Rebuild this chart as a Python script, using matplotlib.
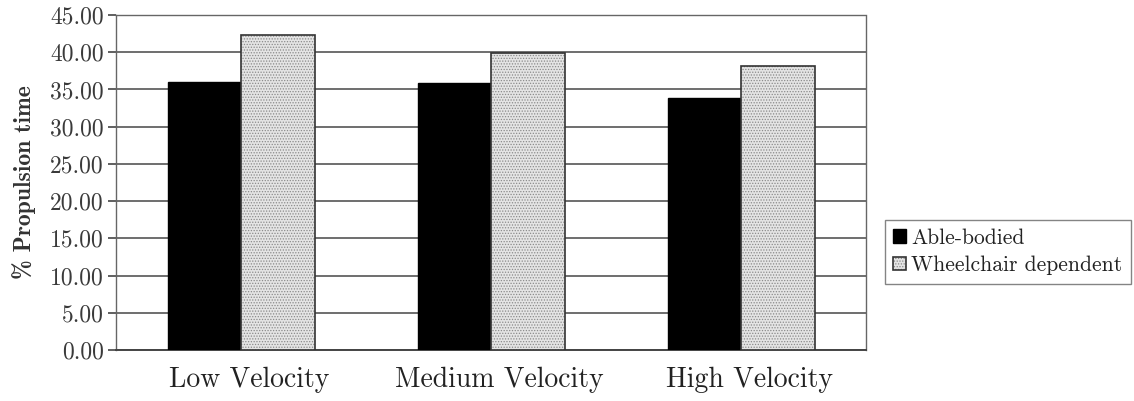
import matplotlib
matplotlib.use("Agg")
import matplotlib.pyplot as plt
import matplotlib.transforms as mtransforms
from matplotlib.legend_handler import HandlerTuple
import numpy as np

categories = ["Low Velocity", "Medium Velocity", "High Velocity"]
able_bodied = [36.0, 35.9, 33.8]
wheelchair = [42.3, 39.9, 38.2]
series_names = ["Able-bodied", "Wheelchair dependent"]
y_ticks = [0, 5, 10, 15, 20, 25, 30, 35, 40, 45]

plt.rcParams["hatch.linewidth"] = 0.6
plt.rcParams["axes.formatter.use_mathtext"] = True

fig = plt.figure(figsize=(11.34, 4.01), dpi=100)
ax = fig.add_axes([0.1023, 0.127, 0.6614, 0.8356])

x = np.arange(len(categories))
w = 0.294

ab = ax.bar(x - w / 2, able_bodied, width=w, color="black", edgecolor="black",
            linewidth=1.0, zorder=3)
wc_fill = ax.bar(x + w / 2, wheelchair, width=w, color="#e4e4e4",
                 edgecolor="#8a8a8a", hatch="......", linewidth=0, zorder=3)
wc_edge = ax.bar(x + w / 2, wheelchair, width=w, fill=False,
                 edgecolor="#333333", linewidth=1.2, zorder=4)

ax.set_xlim(-0.5, 2.5)
ax.set_ylim(0, 45)
ax.set_yticks(y_ticks)
ax.set_yticklabels([f"{v:.2f}" for v in y_ticks], family="cmr10", fontsize=17,
                   color="#3a3a3a")
ax.set_xticks(x)
ax.set_xticklabels(categories, family="cmr10", fontsize=20, color="#222222")
ax.tick_params(axis="x", length=0, pad=12)
ax.tick_params(axis="y", length=6, width=1.2, color="#444444", pad=3)
shift = mtransforms.ScaledTranslation(0.08, 0, fig.dpi_scale_trans)
for lab in ax.get_xticklabels():
    lab.set_transform(lab.get_transform() + shift)

ax.yaxis.grid(True, color="#555555", linewidth=1.2, zorder=1)
for spine in ax.spines.values():
    spine.set_linestyle((0, (1.5, 1)))
    spine.set_color("#666666")
    spine.set_linewidth(1.0)
ax.spines["bottom"].set_color("#444444")
ax.spines["bottom"].set_linewidth(1.4)

ax.set_ylabel("% Propulsion time", family="cmb10", fontsize=17,
              color="#333333", labelpad=10)

leg = fig.legend([ab[0], (wc_fill[0], wc_edge[0])], series_names,
                 handler_map={tuple: HandlerTuple(ndivide=1, pad=0)},
                 loc="upper left", bbox_to_anchor=(0.780, 0.452),
                 frameon=True, fancybox=False,
                 prop={"family": "cmr10", "size": 15.5}, handlelength=0.6,
                 handleheight=0.6, handletextpad=0.25, borderpad=0.4,
                 labelspacing=0.35, borderaxespad=0)
leg.get_frame().set_edgecolor("#666666")
leg.get_frame().set_linewidth(1.0)
for t in leg.get_texts():
    t.set_color("#222222")

fig.savefig("out.png", dpi=100, facecolor="white")
